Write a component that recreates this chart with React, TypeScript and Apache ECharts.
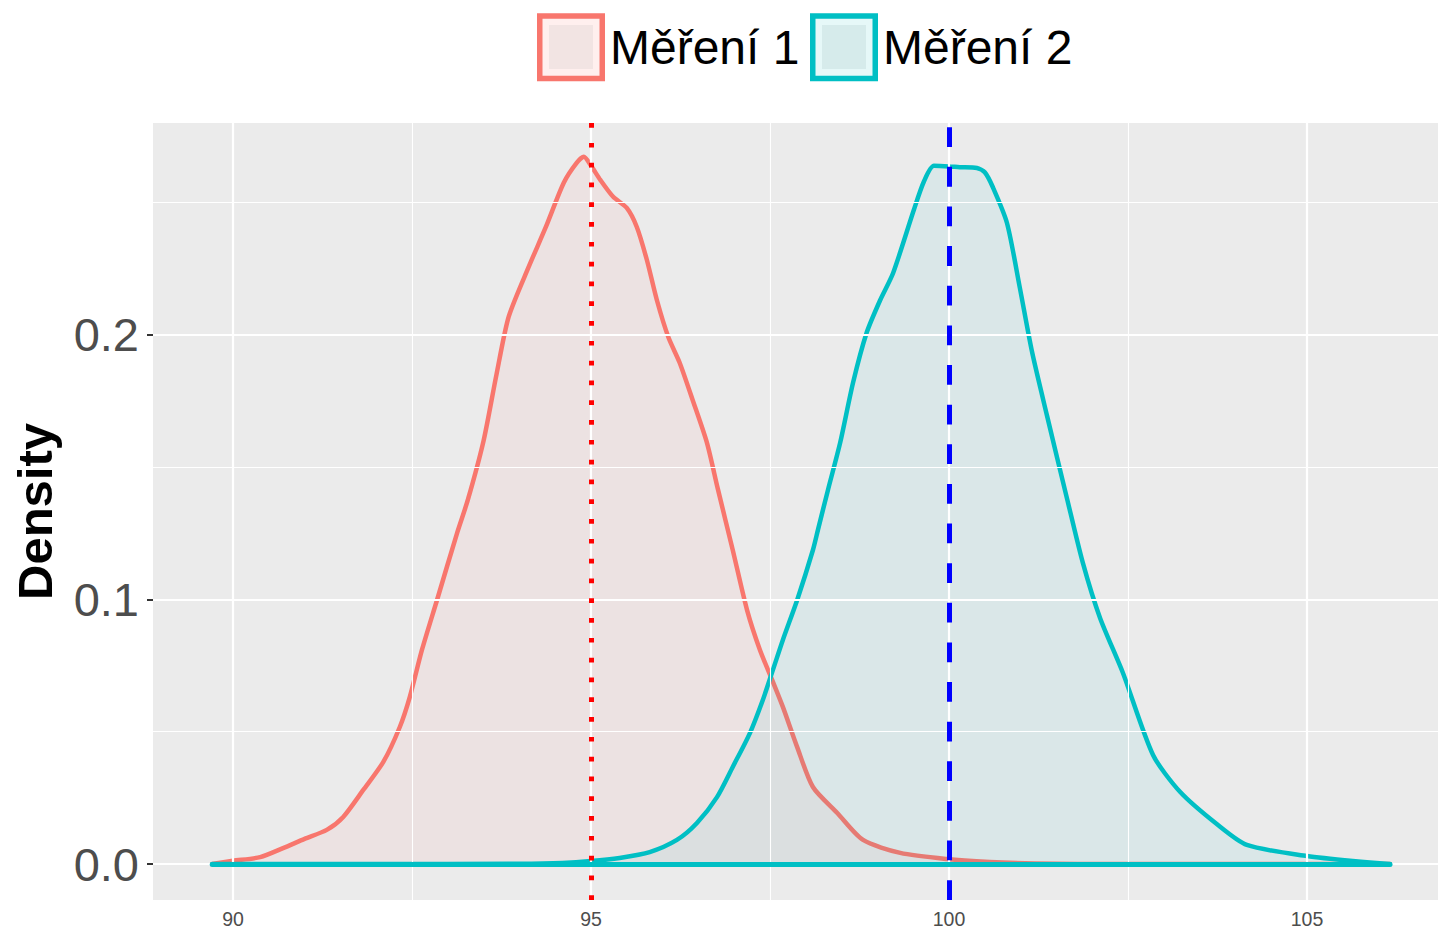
import React, { useEffect, useRef } from "react";
import * as echarts from "echarts";

// Kernel density estimates of the two measurement series (x = value, y = density)
const mereni1X = [
  89.71, 90.0, 90.38, 90.7, 91.0, 91.31, 91.54, 91.82, 92.1, 92.33, 92.47, 92.64, 92.85, 93.13,
  93.28, 93.5, 93.68, 93.85, 94.13, 94.37, 94.62, 94.8, 94.9, 95.0, 95.13, 95.31, 95.5, 95.64,
  95.78, 95.92, 96.08, 96.24, 96.42, 96.62, 96.77, 96.98, 97.18, 97.36, 97.53, 97.68, 97.88,
  98.1, 98.44, 98.8, 99.32, 99.97, 100.57, 101.2, 101.8, 106.16,
];
const mereni1Y = [
  0, 0.0012, 0.0026, 0.006, 0.0095, 0.0129, 0.0178, 0.028, 0.0386, 0.0518, 0.0632, 0.081, 0.0998,
  0.1251, 0.1376, 0.16, 0.185, 0.2068, 0.2257, 0.2408, 0.2575, 0.265, 0.2673, 0.264, 0.2586,
  0.2522, 0.248, 0.2408, 0.2284, 0.2132, 0.1992, 0.1894, 0.1754, 0.1592, 0.142, 0.1187, 0.096,
  0.0809, 0.0696, 0.0594, 0.0442, 0.0291, 0.0193, 0.0091, 0.0042, 0.0019, 0.0008, 0.0002, 0, 0,
];
const mereni2X = [
  89.71, 92.0, 94.0, 94.6, 95.0, 95.4, 95.82, 96.2, 96.48, 96.76, 96.98, 97.22, 97.4, 97.54,
  97.68, 97.88, 98.1, 98.17, 98.31, 98.48, 98.66, 98.85, 99.04, 99.22, 99.51, 99.65, 99.79,
  100.0, 100.15, 100.39, 100.5, 100.61, 100.81, 100.99, 101.16, 101.37, 101.65, 101.87, 102.11,
  102.43, 102.85, 103.23, 103.74, 104.16, 105.0, 105.64, 106.16,
];
const mereni2Y = [
  0, 0, 0.0001, 0.0004, 0.0011, 0.0023, 0.0045, 0.0091, 0.0155, 0.0253, 0.0367, 0.0495, 0.062,
  0.0733, 0.0847, 0.0998, 0.1187, 0.1263, 0.1414, 0.1592, 0.1819, 0.2008, 0.2132, 0.2234,
  0.2473, 0.258, 0.2639, 0.2637, 0.2634, 0.2631, 0.2615, 0.256, 0.2423, 0.2178, 0.1936, 0.1694,
  0.138, 0.1138, 0.093, 0.0722, 0.0412, 0.0272, 0.0151, 0.0072, 0.003, 0.0011, 0,
];

// Series means shown as vertical reference lines
const mean1 = 95;
const mean2 = 100;

const seriesNames = ["Měření 1", "Měření 2"];
const xTicks = [90, 95, 100, 105];
const xMinorGrid = [92.5, 97.5, 102.5];
const yTicks = [0, 0.1, 0.2];
const yMinorGrid = [0.05, 0.15, 0.25];

const RED = "#F8766D";
const CYAN = "#00BFC4";
const FONT = "'Liberation Sans', Arial, Helvetica, sans-serif";

const pairs = (xs: number[], ys: number[]) => xs.map((x, i) => [x, ys[i]]);

export default function App() {
  const ref = useRef<HTMLDivElement>(null);

  useEffect(() => {
    if (!ref.current) return;
    const chart = echarts.init(ref.current, undefined, { renderer: "svg" });

    const xMin = 88.883;
    const xMax = 106.83;

    const legendItem = (x: number, color: string, band: string, inner: string, label: string) => [
      {
        type: "rect",
        shape: { x: x + 2.75, y: 16, width: 62.5, height: 62.5 },
        style: { fill: band, stroke: color, lineWidth: 5.5 },
      },
      {
        type: "rect",
        shape: { x: x + 12, y: 25, width: 44, height: 44 },
        style: { fill: inner },
      },
      {
        type: "text",
        x: x + 73,
        y: 47.5,
        style: {
          text: label,
          fill: "#000000",
          font: `48px ${FONT}`,
          textVerticalAlign: "middle",
        },
      },
    ];

    chart.setOption({
      animation: false,
      backgroundColor: "#FFFFFF",
      grid: {
        left: 153,
        right: 0,
        top: 123,
        bottom: 33,
        containLabel: false,
        outerBoundsMode: "none",
      },
      xAxis: {
        type: "value",
        min: xMin,
        max: xMax,
        axisLine: { show: false },
        splitLine: { show: false },
        axisTick: {
          show: true,
          customValues: xTicks,
          length: 6,
          lineStyle: { color: "#333333", width: 2 },
        },
        axisLabel: {
          customValues: xTicks,
          margin: 9,
          fontSize: 19.5,
          color: "#4D4D4D",
          fontFamily: FONT,
        },
      },
      yAxis: {
        type: "value",
        min: -0.0136,
        max: 0.2801,
        name: "Density",
        nameLocation: "middle",
        nameGap: 94,
        nameTextStyle: { fontSize: 49, fontWeight: "bold", color: "#000000", fontFamily: FONT },
        axisLine: { show: false },
        splitLine: { show: false },
        axisTick: {
          show: true,
          customValues: yTicks,
          length: 6,
          lineStyle: { color: "#333333", width: 2 },
        },
        axisLabel: {
          customValues: yTicks,
          margin: 14,
          fontSize: 47,
          color: "#4D4D4D",
          fontFamily: FONT,
          formatter: (v: number) => v.toFixed(1),
        },
      },
      graphic: [
        {
          type: "rect",
          z: -1,
          shape: { x: 153, y: 123, width: 1285, height: 777 },
          style: { fill: "#EBEBEB" },
          silent: true,
        },
        ...legendItem(537, RED, "#FFEFEE", "#F2E4E3", seriesNames[0]),
        ...legendItem(810, CYAN, "#E6F8F8", "#D6EBEB", seriesNames[1]),
      ],
      series: [
        {
          // panel grid lines
          type: "line",
          data: [],
          z: 1,
          silent: true,
          symbol: "none",
          markLine: {
            silent: true,
            symbol: "none",
            label: { show: false },
            animation: false,
            data: [
              ...yMinorGrid.map((v) => ({ yAxis: v, lineStyle: { color: "#FFFFFF", width: 1.1, type: "solid" } })),
              ...xMinorGrid.map((v) => ({ xAxis: v, lineStyle: { color: "#FFFFFF", width: 1.1, type: "solid" } })),
              ...yTicks.map((v) => ({ yAxis: v, lineStyle: { color: "#FFFFFF", width: 2.2, type: "solid" } })),
              ...xTicks.map((v) => ({ xAxis: v, lineStyle: { color: "#FFFFFF", width: 2.2, type: "solid" } })),
            ],
          },
        },
        {
          name: seriesNames[0],
          type: "line",
          z: 2,
          data: pairs(mereni1X, mereni1Y),
          symbol: "none",
          smooth: 0.25,
          lineStyle: { color: RED, width: 4.5, join: "round", cap: "round" },
          areaStyle: { color: "rgba(248,118,109,0.1)", origin: 0 },
        },
        {
          name: seriesNames[1],
          type: "line",
          z: 3,
          data: pairs(mereni2X, mereni2Y),
          symbol: "none",
          smooth: 0.25,
          lineStyle: { color: CYAN, width: 4.5, join: "round", cap: "round" },
          areaStyle: { color: "rgba(0,191,196,0.1)", origin: 0 },
        },
        {
          // closing baseline of the second density outline
          type: "line",
          z: 4,
          data: [],
          symbol: "none",
          silent: true,
          markLine: {
            silent: true,
            symbol: "none",
            label: { show: false },
            animation: false,
            data: [
              [
                {
                  coord: [mereni2X[0], 0],
                  lineStyle: { color: CYAN, width: 5, type: "solid", cap: "round" },
                },
                { coord: [mereni2X[mereni2X.length - 1], 0] },
              ],
            ],
          },
        },
        {
          // mean reference lines
          type: "line",
          data: [],
          z: 5,
          symbol: "none",
          silent: true,
          markLine: {
            silent: true,
            symbol: "none",
            label: { show: false },
            animation: false,
            data: [
              { xAxis: mean1, lineStyle: { color: "#FF0000", width: 5, type: [4.7, 15.1], cap: "butt" } },
              { xAxis: mean2, lineStyle: { color: "#0000FF", width: 5, type: [19.8, 19.83], cap: "butt" } },
            ],
          },
        },
      ],
    });

    return () => chart.dispose();
  }, []);

  return (
    <div
      ref={ref}
      style={{ position: "absolute", left: 0, top: 0, width: 1438, height: 933 }}
    />
  );
}
